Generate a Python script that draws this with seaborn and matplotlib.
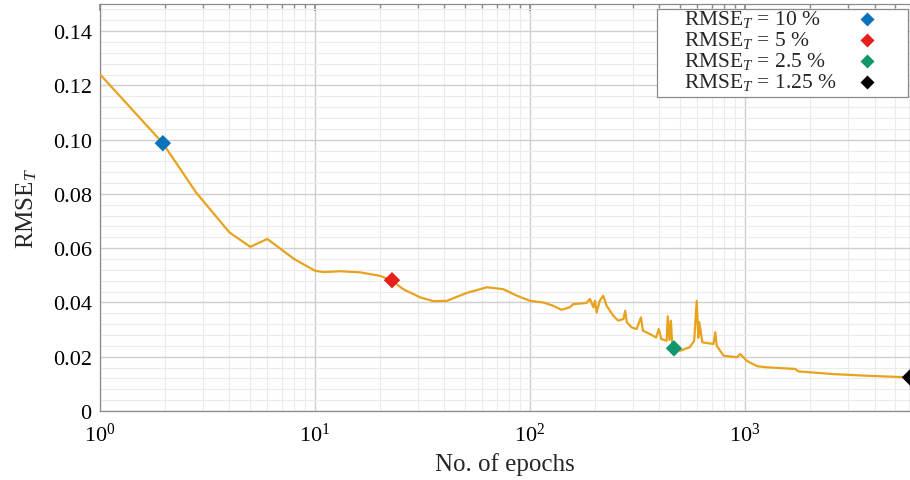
import numpy as np
import pandas as pd
import matplotlib
matplotlib.use("Agg")
import matplotlib.pyplot as plt
import seaborn as sns
from matplotlib.ticker import LogLocator, MultipleLocator, NullFormatter, FixedLocator, FixedFormatter
from matplotlib.patches import Rectangle

# ---- data ----
epochs = [1, 1.96, 2.8, 4, 5, 6, 8, 10, 10.9, 13.1, 16.2, 20.1, 22.8, 25.7, 30.8, 35.5,
          41, 50.7, 63, 75, 86.9, 100, 115, 128, 140, 153, 159, 183, 190, 197, 200.6,
          204, 211, 219, 227, 244, 257, 272, 277, 282, 297, 313, 328, 335, 360, 386,
          397, 408, 432, 437, 445, 452, 458, 467, 499, 553, 580, 596, 606, 613, 633,
          713, 727, 738, 794, 917, 950, 1018, 1140, 1262, 1710, 1770, 2576, 3681, 5850]
rmse = [0.1241, 0.0987, 0.0805, 0.0658, 0.0605, 0.0634, 0.0560, 0.0517, 0.0512, 0.0515,
        0.0511, 0.0498, 0.0480, 0.0449, 0.0419, 0.0405, 0.0406, 0.0435, 0.0456, 0.0449,
        0.0425, 0.0406, 0.0400, 0.0388, 0.0373, 0.0382, 0.0394, 0.0398, 0.0413, 0.0382,
        0.0406, 0.0363, 0.0406, 0.0425, 0.0388, 0.0351, 0.0333, 0.0339, 0.0369, 0.0327,
        0.0308, 0.0302, 0.0345, 0.0296, 0.0284, 0.0271, 0.0302, 0.0265, 0.0259, 0.0349,
        0.0262, 0.0333, 0.0250, 0.0231, 0.0222, 0.0235, 0.0259, 0.0406, 0.0270, 0.0327,
        0.0253, 0.0247, 0.0290, 0.0241, 0.0204, 0.0198, 0.0210, 0.0185, 0.0165, 0.0161,
        0.0155, 0.0146, 0.0136, 0.0130, 0.0124]

marker_labels = ["RMSE$_T$ = 10 %", "RMSE$_T$ = 5 %", "RMSE$_T$ = 2.5 %", "RMSE$_T$ = 1.25 %"]
marker_epochs = [1.96, 22.8, 467, 5850]
marker_rmse = [0.0987, 0.0482, 0.0231, 0.0124]
marker_colors = ["#0A72BA", "#E5201C", "#12966E", "#000000"]

xtick_vals = [1, 10, 100, 1000]
xtick_labels = ["$10^0$", "$10^1$", "$10^2$", "$10^3$"]
ytick_vals = [0, 0.02, 0.04, 0.06, 0.08, 0.10, 0.12, 0.14]
ytick_labels = ["0", "0.02", "0.04", "0.06", "0.08", "0.10", "0.12", "0.14"]

# ---- style ----
sns.set_theme(style="white")
plt.rcParams["font.family"] = ["Liberation Serif", "DejaVu Serif"]
plt.rcParams["mathtext.fontset"] = "custom"
plt.rcParams["mathtext.rm"] = "Liberation Serif"
plt.rcParams["mathtext.it"] = "Liberation Serif:italic"
plt.rcParams["mathtext.bf"] = "Liberation Serif:bold"

fig = plt.figure(figsize=(9.1, 4.81), dpi=100)
ax = fig.add_axes([100 / 910, 1 - 412 / 481, 810 / 910, 407 / 481])

df = pd.DataFrame({"epochs": epochs, "rmse": rmse})
sns.lineplot(data=df, x="epochs", y="rmse", ax=ax, color="#E9A21E", lw=1.6,
             estimator=None, sort=False, zorder=3)

mdf = pd.DataFrame({"epochs": marker_epochs, "rmse": marker_rmse, "label": marker_labels})
sns.scatterplot(data=mdf, x="epochs", y="rmse", hue="label", palette=marker_colors,
                marker="D", s=70, edgecolor="none", ax=ax, zorder=4, legend=False)

ax.set_xscale("log")
ax.set_xlim(1, 5850)
ax.set_ylim(0, 0.15)

ax.xaxis.set_major_locator(FixedLocator(xtick_vals))
ax.xaxis.set_major_formatter(FixedFormatter(xtick_labels))
ax.xaxis.set_minor_locator(LogLocator(base=10, subs=np.arange(2, 10), numticks=20))
ax.xaxis.set_minor_formatter(NullFormatter())
ax.yaxis.set_major_locator(FixedLocator(ytick_vals))
ax.yaxis.set_major_formatter(FixedFormatter(ytick_labels))
ax.yaxis.set_minor_locator(MultipleLocator(0.004))

ax.grid(which="major", color="#cfcfcf", lw=1.0)
ax.grid(which="minor", color="#ebebeb", lw=0.8)
ax.set_axisbelow(True)

for s in ax.spines.values():
    s.set_color("#8a8a8a")
    s.set_linewidth(0.9)
ax.tick_params(which="both", direction="in", top=True, right=False, colors="#8a8a8a",
               labelcolor="black", labelsize=16)
ax.tick_params(which="major", length=5)
ax.tick_params(which="minor", length=3)
ax.tick_params(axis="x", pad=8)
ax.tick_params(axis="y", pad=6)

ax.set_xlabel("No. of epochs", fontsize=18, labelpad=5)
ax.set_ylabel("RMSE$_T$", fontsize=18, labelpad=10)

# ---- legend (text left-aligned, markers on the right) ----
ax.add_patch(Rectangle((0.6877, 0.7715), 0.3098, 0.2162, transform=ax.transAxes,
                       facecolor="white", edgecolor="#8a8a8a", lw=0.9, zorder=10,
                       clip_on=False))
row_base = [0.9509, 0.8993, 0.8477, 0.7961]
row_mark = [0.9631, 0.9115, 0.8600, 0.8084]
for lab, col, yb, ym in zip(marker_labels, marker_colors, row_base, row_mark):
    ax.text(0.7210, yb, lab, transform=ax.transAxes, fontsize=15.5, ha="left",
            va="baseline", zorder=11)
    ax.plot([0.9469], [ym], transform=ax.transAxes, ls="none", marker="D", ms=7,
            color=col, mec="none", zorder=11, clip_on=False)

fig.savefig("out.png", dpi=100)
